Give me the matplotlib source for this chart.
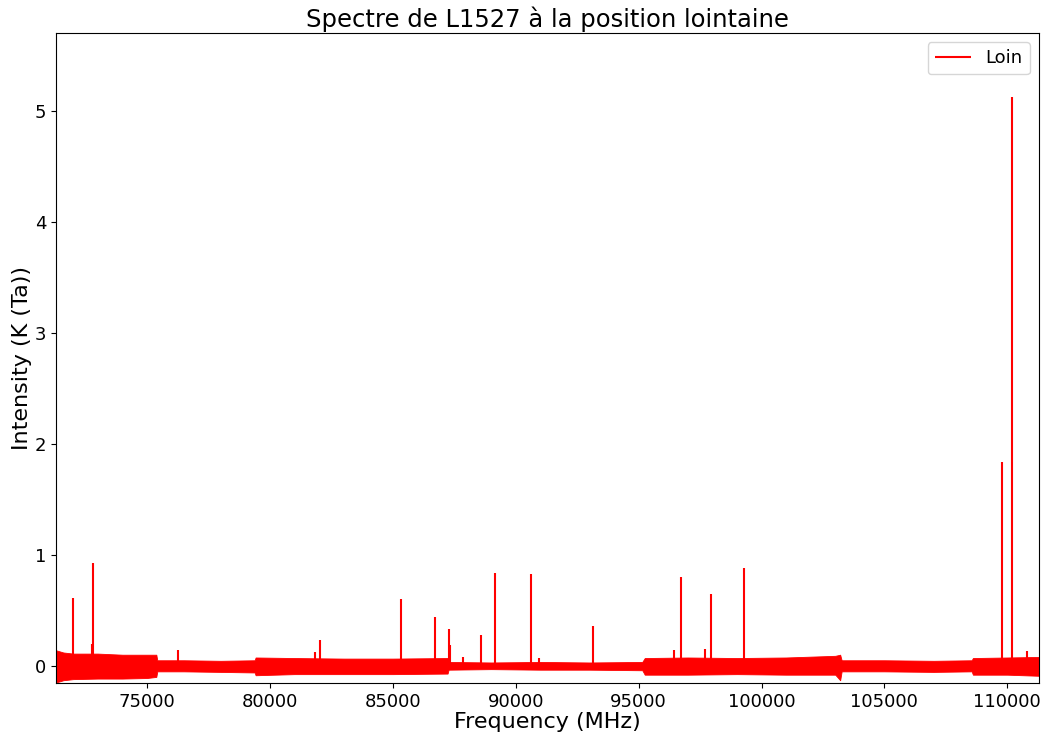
import matplotlib
matplotlib.use("Agg")
import matplotlib.pyplot as plt

# enveloppe du bruit de la ligne de base
freq_bruit = [71300, 71600, 72000, 73000, 74000, 75000, 75380,
              75420, 76500, 78000, 79380,
              79420, 81000, 83000, 85000, 87230,
              87270, 89000, 91000, 93000, 95150,
              95250, 97000, 99000, 101000, 103000, 103200,
              103260, 105000, 107000, 108550,
              108600, 110000, 111300]
haut_bruit = [0.14, 0.12, 0.11, 0.11, 0.10, 0.10, 0.10,
              0.05, 0.05, 0.045, 0.05,
              0.075, 0.07, 0.065, 0.065, 0.07,
              0.035, 0.03, 0.035, 0.03, 0.035,
              0.07, 0.075, 0.07, 0.075, 0.09, 0.10,
              0.05, 0.05, 0.045, 0.05,
              0.07, 0.075, 0.08]
bas_bruit = [-0.15, -0.13, -0.12, -0.115, -0.115, -0.11, -0.10,
             -0.05, -0.05, -0.055, -0.06,
             -0.085, -0.075, -0.075, -0.075, -0.07,
             -0.035, -0.03, -0.035, -0.035, -0.04,
             -0.08, -0.08, -0.075, -0.08, -0.08, -0.13,
             -0.05, -0.05, -0.055, -0.05,
             -0.08, -0.08, -0.09]

# raies (fréquence en MHz, intensité en K)
freq_raies = [71990, 72750, 72803, 76261, 81850, 82038, 85333, 86716, 87285, 87330,
              87855, 88588, 89157, 90621, 90950, 93143, 96420, 96723, 97690, 97943,
              99286, 109781, 110188, 110820]
int_raies = [0.61, 0.20, 0.93, 0.14, 0.12, 0.23, 0.60, 0.44, 0.33, 0.19,
             0.08, 0.28, 0.84, 0.83, 0.07, 0.36, 0.14, 0.80, 0.15, 0.65,
             0.88, 1.84, 5.12, 0.13]

fig, ax = plt.subplots(figsize=(10.43, 7.38), dpi=100)
fig.subplots_adjust(left=0.0537, right=0.9962, top=0.9553, bottom=0.0745)

ax.fill_between(freq_bruit, bas_bruit, haut_bruit, color='red', lw=0.6)
ax.vlines(freq_raies, 0, int_raies, color='red', lw=1.5, label='Loin')

ax.set_xlim(71300, 111290)
ax.set_ylim(-0.155, 5.70)
ax.set_yticks([0, 1, 2, 3, 4, 5])
ax.tick_params(labelsize=13)

ax.set_title('Spectre de L1527 à la position lointaine', fontsize=17.5, pad=4)
ax.set_xlabel('Frequency (MHz)', fontsize=16, labelpad=1)
ax.set_ylabel('Intensity (K (Ta))', fontsize=16, labelpad=2)
ax.legend(loc='upper right', fontsize=13)

plt.savefig('out.png')
